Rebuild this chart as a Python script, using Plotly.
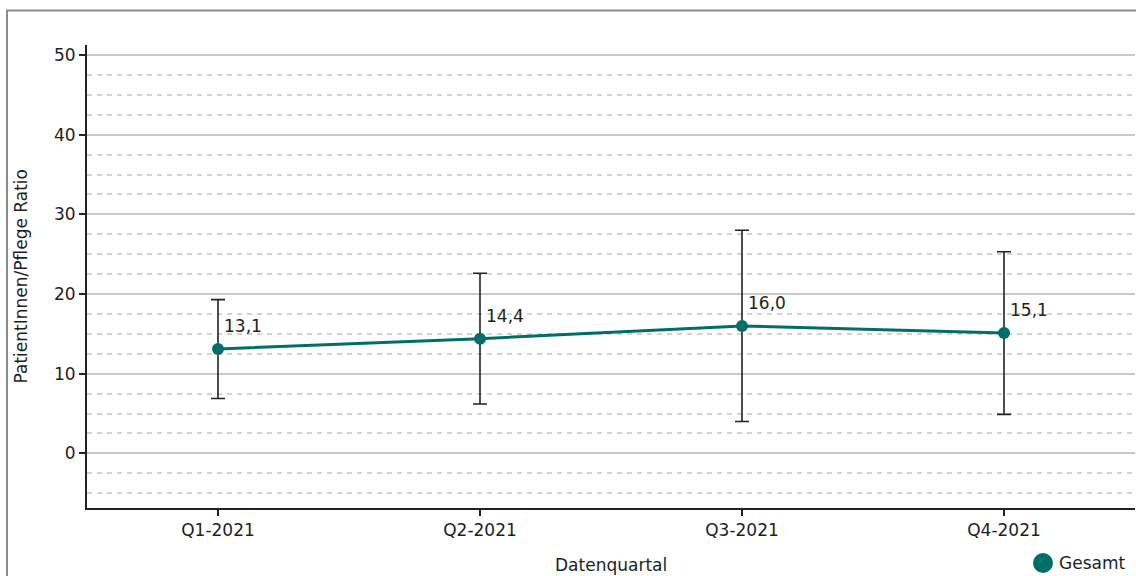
import plotly.graph_objects as go

# ---- data ----
quarters = ["Q1-2021", "Q2-2021", "Q3-2021", "Q4-2021"]
ratio = [13.1, 14.4, 16.0, 15.1]
ratio_err = [6.2, 8.2, 12.0, 10.2]
labels = ["13,1", "14,4", "16,0", "15,1"]
series_name = "Gesamt"

teal = "#006e68"
txt = "#1e1e1e"
FONT = "DejaVu Sans"
FS = 17

fig = go.Figure()
fig.add_trace(go.Scatter(
    x=quarters, y=ratio, mode="lines+markers", name=series_name,
    line=dict(color=teal, width=3),
    marker=dict(color=teal, size=12),
    error_y=dict(type="data", array=ratio_err, visible=True,
                 color="#222222", thickness=1.6, width=7),
    showlegend=False, cliponaxis=False,
))

annotations = []
for q, v, lab in zip(quarters, ratio, labels):
    annotations.append(dict(
        x=q, y=v, xref="x", yref="y", text=lab, showarrow=False,
        xanchor="left", yanchor="middle", xshift=4, yshift=23,
        font=dict(family=FONT, size=FS, color=txt),
    ))

# axis titles
annotations.append(dict(
    x=0.5, y=(508 - 565) / 463, xref="paper", yref="paper",
    text="Datenquartal", showarrow=False, xanchor="center", yanchor="middle",
    font=dict(family=FONT, size=FS, color=txt),
))
annotations.append(dict(
    x=(20 - 87) / 1048, y=0.5, xref="paper", yref="paper",
    text="PatientInnen/Pflege Ratio", showarrow=False, textangle=-90,
    xanchor="center", yanchor="middle",
    font=dict(family=FONT, size=FS, color=txt),
))
# legend text
annotations.append(dict(
    x=(1057 - 87) / 1048, y=(508 - 563) / 463, xref="paper", yref="paper",
    text=series_name, showarrow=False, xanchor="left", yanchor="middle",
    font=dict(family=FONT, size=FS, color=txt),
))

shapes = [
    # outer frame
    dict(type="rect", xref="paper", yref="paper",
         x0=(7 - 87) / 1048, x1=1.05, y0=-0.3, y1=(508 - 10.5) / 463,
         line=dict(color="#8a8a8a", width=2), fillcolor="rgba(0,0,0,0)", layer="below"),
    # legend marker
    dict(type="circle", xref="paper", yref="paper",
         xsizemode="pixel", ysizemode="pixel",
         xanchor=(1043 - 87) / 1048, yanchor=(508 - 563) / 463,
         x0=-10, x1=10, y0=-10, y1=10,
         line=dict(color=teal, width=0), fillcolor=teal),
]

fig.update_layout(
    width=1136, height=576,
    margin=dict(l=87, r=1, t=45, b=68),
    paper_bgcolor="white", plot_bgcolor="white",
    font=dict(family=FONT, size=FS, color=txt),
    annotations=annotations, shapes=shapes,
    xaxis=dict(
        type="category", range=[-0.5, 3.5],
        showline=True, linecolor="#222222", linewidth=2,
        ticks="outside", ticklen=6, tickwidth=1.5, tickcolor="#222222",
        showgrid=False, zeroline=False,
        tickfont=dict(family=FONT, size=FS, color=txt),
    ),
    yaxis=dict(
        range=[-6.85, 51.25], tickvals=[0, 10, 20, 30, 40, 50],
        showline=True, linecolor="#222222", linewidth=2,
        ticks="outside", ticklen=6, tickwidth=1.5, tickcolor="#222222",
        showgrid=True, gridcolor="#c8c8c8", gridwidth=1.5,
        zeroline=False,
        minor=dict(dtick=2.5, tick0=0, showgrid=True, gridcolor="#d2d2d2",
                   gridwidth=1.5, griddash="5px,5px", ticks=""),
        tickfont=dict(family=FONT, size=FS, color=txt),
    ),
)

fig.write_html(
    "out.html",
    config={"displayModeBar": False},
    post_script="document.body.style.margin='0';document.body.style.overflow='hidden';",
)
